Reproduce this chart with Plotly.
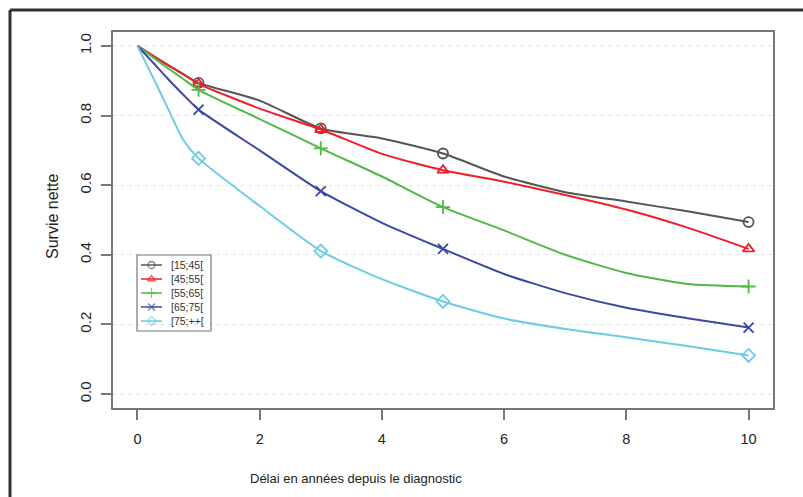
import plotly.graph_objects as go

# ---- data ----
times = [0, 0.25, 0.5, 0.75, 1, 2, 3, 4, 5, 6, 7, 8, 9, 10]
marker_times = [1, 3, 5, 10]
groups = ["[15;45[", "[45;55[", "[55;65[", "[65;75[", "[75;++["]
s_15_45 = [1.0, 0.972, 0.945, 0.919, 0.894, 0.843, 0.763, 0.734, 0.691, 0.625, 0.580, 0.553, 0.525, 0.494]
s_45_55 = [1.0, 0.972, 0.945, 0.918, 0.891, 0.820, 0.760, 0.690, 0.643, 0.610, 0.572, 0.530, 0.478, 0.417]
s_55_65 = [1.0, 0.968, 0.936, 0.905, 0.874, 0.790, 0.706, 0.625, 0.537, 0.470, 0.400, 0.348, 0.316, 0.309]
s_65_75 = [1.0, 0.953, 0.905, 0.860, 0.817, 0.700, 0.583, 0.492, 0.417, 0.345, 0.290, 0.248, 0.218, 0.191]
s_75_pp = [1.0, 0.911, 0.820, 0.730, 0.677, 0.540, 0.411, 0.330, 0.266, 0.217, 0.187, 0.163, 0.138, 0.111]
series = [s_15_45, s_45_55, s_55_65, s_65_75, s_75_pp]
x_ticks = [0, 2, 4, 6, 8, 10]
y_ticks = [0.0, 0.2, 0.4, 0.6, 0.8, 1.0]
y_ticklabels = ["0.0", "0.2", "0.4", "0.6", "0.8", "1.0"]
x_title = "Délai en années depuis le diagnostic"
y_title = "Survie nette"

colors = ["#555555", "#EE1F2B", "#4FB947", "#3B48A5", "#6DCBE3"]
symbols = ["circle-open", "triangle-up-open", "cross-thin-open", "x-thin-open", "diamond-open"]
FONT = "Liberation Sans, Arial, sans-serif"

W, H = 803, 497
L, R, T, B = 113, 30, 32, 89
PW, PH = W - L - R, H - T - B


def px(xp):
    return (xp - L) / PW


def py(yp):
    return (H - B - yp) / PH


fig = go.Figure()

for name, vals, col, sym in zip(groups, series, colors, symbols):
    fig.add_trace(go.Scatter(
        x=times, y=vals, mode="lines", line=dict(color=col, width=2, shape="spline", smoothing=0.6),
        showlegend=False, hoverinfo="skip"))
    mx = [t for t in times if t in marker_times]
    my = [v for t, v in zip(times, vals) if t in marker_times]
    fig.add_trace(go.Scatter(
        x=mx, y=my, mode="markers", name=name,
        marker=dict(symbol=sym, size=10, color=col, line=dict(color=col, width=1.8)),
        showlegend=False))

# ---- custom legend (overlay axes in plot-area fractions) ----
row_y = [265, 279, 293, 307, 321]
for name, col, sym, ry in zip(groups, colors, symbols, row_y):
    fig.add_trace(go.Scatter(
        x=[px(141), px(151.5), px(162)], y=[py(ry)] * 3, xaxis="x2", yaxis="y2",
        mode="lines+markers", line=dict(color=col, width=1.5),
        marker=dict(symbol=sym, size=[0, 7, 0], color=col, line=dict(color=col, width=1.3)),
        showlegend=False, hoverinfo="skip"))
    fig.add_annotation(x=px(169), y=py(ry), xref="paper", yref="paper", text=name,
                       showarrow=False, xanchor="left", yanchor="middle",
                       font=dict(size=10.5, color="#333333", family=FONT))

# axis titles
fig.add_annotation(x=px(356), y=py(478), xref="paper", yref="paper", text=x_title,
                   showarrow=False, xanchor="center", yanchor="middle",
                   font=dict(size=13, color="#222222", family=FONT))
fig.add_annotation(x=px(52), y=py(217), xref="paper", yref="paper", text=y_title,
                   showarrow=False, xanchor="center", yanchor="middle", textangle=-90,
                   font=dict(size=16, color="#222222", family=FONT))

shapes = [
    # legend box
    dict(type="rect", xref="paper", yref="paper", x0=px(137), x1=px(211), y0=py(331), y1=py(255),
         line=dict(color="#777777", width=1.2), fillcolor="rgba(0,0,0,0)", layer="above"),
    # outer frame (top and left)
    dict(type="line", xref="paper", yref="paper", x0=px(10), x1=px(803), y0=py(10), y1=py(10),
         line=dict(color="#333333", width=3)),
    dict(type="line", xref="paper", yref="paper", x0=px(10), x1=px(10), y0=py(10), y1=py(497),
         line=dict(color="#333333", width=3)),
]

fig.update_layout(
    width=W, height=H, margin=dict(l=L, r=R, t=T, b=B),
    paper_bgcolor="white", plot_bgcolor="white",
    font=dict(family=FONT, color="#222222", size=14),
    shapes=shapes,
    xaxis=dict(range=[-0.4, 10.4], tickvals=x_ticks, ticks="outside", ticklen=10,
               tickcolor="#777777", tickwidth=1.5, showline=True, mirror=True,
               linecolor="#777777", linewidth=1.5, showgrid=False, zeroline=False,
               tickfont=dict(size=14.5), ticklabelstandoff=7),
    yaxis=dict(range=[-0.04, 1.04], tickvals=y_ticks, ticktext=y_ticklabels, ticks="outside",
               ticklen=10, tickcolor="#777777", tickwidth=1.5, tickangle=-90,
               showline=True, mirror=True, linecolor="#777777", linewidth=1.5,
               showgrid=True, gridcolor="#DDDDDD", griddash="3px,5px", gridwidth=1,
               zeroline=False, tickfont=dict(size=15), ticklabelstandoff=4),
    xaxis2=dict(overlaying="x", range=[0, 1], visible=False),
    yaxis2=dict(overlaying="y", range=[0, 1], visible=False),
)

fig.write_html("out.html")
